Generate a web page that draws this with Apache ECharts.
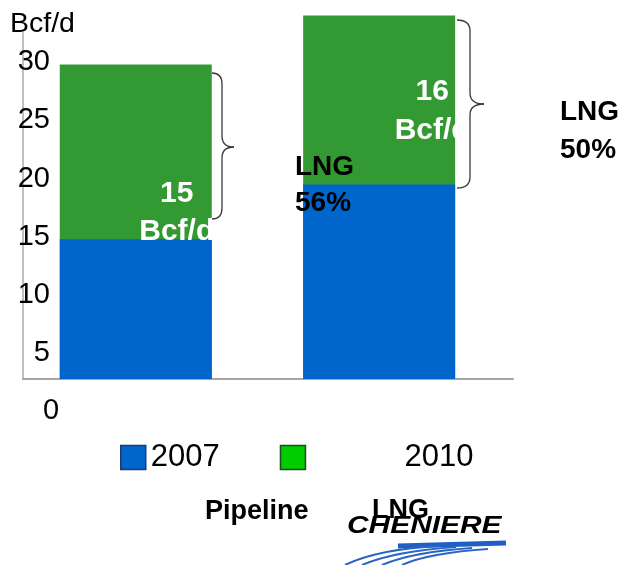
<!DOCTYPE html>
<html>
<head>
<meta charset="utf-8">
<script src="https://cdn.jsdelivr.net/npm/echarts@6/dist/echarts.min.js"></script>
<style>
  html, body { margin: 0; padding: 0; background: #fff; }
  #chart { width: 626px; height: 565px; }
</style>
</head>
<body>
<div id="chart"></div>
<script>
// data
const years = [2007, 2010];
const pipeline = [14.8, 19.5];
const lng = [15.0, 14.5];
const lngLabels = ['15', '16'];
const yTicks = [5, 10, 15, 20, 25, 30];

const font = "'Liberation Sans', Arial, sans-serif";
// green bar is drawn as the total, blue pipeline bar sits over it
const totals = pipeline.map((v, i) => v + lng[i]);
const labelOffsets = [[41, -9], [53, -86]];

function curve(x1, y1, cx, cy, x2, y2, stroke, w) {
    return { type: 'bezierCurve', z: 100, silent: true,
        shape: { x1: x1, y1: y1, x2: x2, y2: y2, cpx1: cx, cpy1: cy },
        style: { fill: 'none', stroke: stroke, lineWidth: w } };
}
function seg(x1, y1, x2, y2, stroke, w) {
    return { type: 'line', z: 100, silent: true,
        shape: { x1: x1, y1: y1, x2: x2, y2: y2 },
        style: { stroke: stroke, lineWidth: w } };
}
// curly brace "}" opening to the left
function brace(xL, xM, xT, yTop, yTip, yBot) {
    const c = '#3a3a3a', w = 1.3, r = 11;
    return [
        curve(xL, yTop, xM, yTop, xM, yTop + r, c, w),
        seg(xM, yTop + r, xM, yTip - r, c, w),
        curve(xM, yTip - r, xM, yTip, xT, yTip, c, w),
        curve(xT, yTip, xM, yTip, xM, yTip + r, c, w),
        seg(xM, yTip + r, xM, yBot - r, c, w),
        curve(xM, yBot - r, xM, yBot, xL, yBot, c, w)
    ];
}
function txt(x, y, text, size, bold, extra, italic) {
    return Object.assign({ type: 'text', x: x, y: y, z: 100, silent: true,
        style: { text: text, fill: '#000', fontSize: size, fontWeight: bold ? 'bold' : 'normal',
            fontStyle: italic ? 'italic' : 'normal',
            fontFamily: font, align: 'left', verticalAlign: 'middle' } }, extra || {});
}

const chart = echarts.init(document.getElementById('chart'));

chart.setOption({
    animation: false,
    textStyle: { fontFamily: font },
    grid: { left: 23, right: 113, top: 33, bottom: 186 },
    legend: {
        left: 115,
        top: 437,
        icon: 'rect',
        itemWidth: 25,
        itemHeight: 24,
        itemGap: 60,
        data: [
            { name: 'Pipeline', itemStyle: { color: '#0066cc', borderColor: '#1b3b6e', borderWidth: 1.5 } },
            { name: 'LNG', itemStyle: { color: '#00cc00', borderColor: '#1e4a20', borderWidth: 1.5 } }
        ],
        formatter: function (name) {
            return name === 'Pipeline' ? String(years[0]) : '{g| }' + years[1];
        },
        textStyle: { fontSize: 31, color: '#000', rich: { g: { width: 94 } } }
    },
    xAxis: {
        type: 'value',
        min: 2005.61,
        max: 2011.65,
        axisLine: { show: true, onZero: false, lineStyle: { color: '#a6a6a6', width: 2 } },
        axisTick: { show: false },
        axisLabel: { show: false },
        splitLine: { show: false }
    },
    yAxis: {
        type: 'value',
        min: 2.8,
        max: 32.5,
        startValue: 2.8,
        name: 'Bcf/d',
        nameLocation: 'end',
        nameGap: 9,
        nameTextStyle: { fontSize: 28.5, color: '#000', align: 'left', verticalAlign: 'middle', padding: [0, 0, 0, -13] },
        axisLine: { show: true, lineStyle: { color: '#c0c0c0', width: 2 } },
        axisTick: { show: false },
        splitLine: { show: false },
        axisLabel: { customValues: yTicks, margin: -27, fontSize: 29, color: '#000' }
    },
    series: [
        {
            name: 'LNG',
            type: 'bar',
            barWidth: 152,
            barGap: '-100%',
            clip: false,
            itemStyle: { color: '#339933' },
            label: {
                show: true,
                position: 'inside',
                color: '#fff',
                fontSize: 30,
                fontWeight: 'bold',
                lineHeight: 38.5,
                formatter: p => lngLabels[p.dataIndex] + '\nBcf/d'
            },
            data: totals.map((v, i) => ({ value: [years[i], v], label: { offset: labelOffsets[i] } }))
        },
        {
            name: 'Pipeline',
            type: 'bar',
            barWidth: 152,
            barGap: '-100%',
            clip: false,
            itemStyle: { color: '#0066cc' },
            data: pipeline.map((v, i) => [years[i], v])
        }
    ],
    graphic: [].concat(
        [txt(43, 411, '0', 29, false)],
        brace(212, 222, 234, 73, 147, 219),
        brace(457, 470, 484, 20, 104, 188),
        [
            txt(295, 167, 'LNG', 28, true),
            txt(295, 203, '56%', 28, true),
            txt(560, 112, 'LNG', 28, true),
            txt(560, 150, '50%', 28, true),
            txt(205, 512, 'Pipeline', 27, true),
            txt(372, 511, 'LNG', 27, true),
            txt(347, 527, 'CHENIERE', 23, true, { scaleX: 1.3 }, true),
            seg(398, 546, 506, 543, '#1f5fc4', 5),
            curve(345, 565, 378, 549, 440, 546, '#2a64c4', 2),
            curve(362, 565, 395, 551, 456, 547, '#2a64c4', 2),
            curve(382, 565, 412, 552, 472, 548, '#2a64c4', 2),
            curve(402, 565, 428, 553, 488, 549, '#2a64c4', 2)
        ]
    )
});
</script>
</body>
</html>
